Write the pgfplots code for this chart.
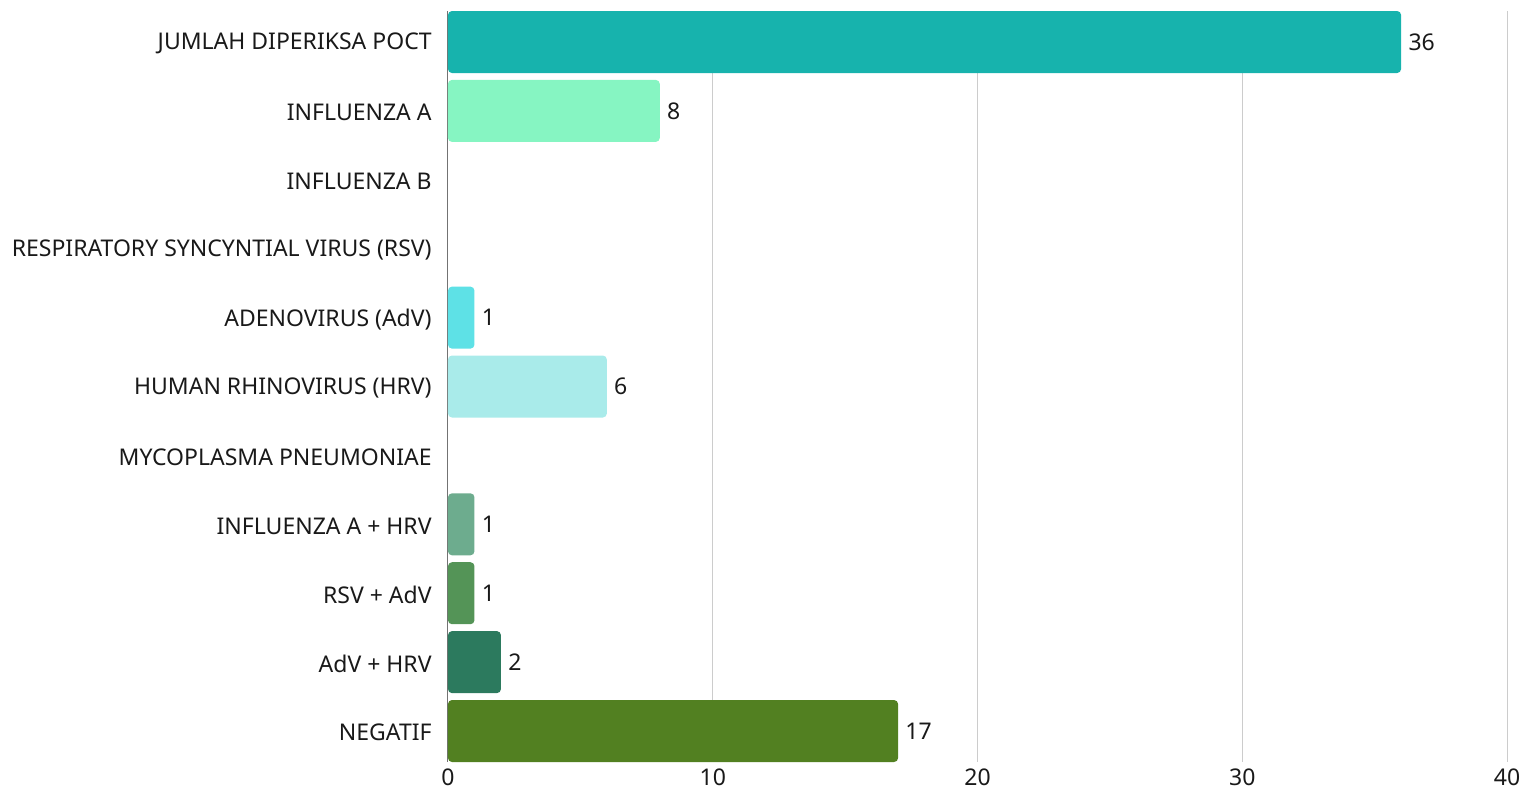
\documentclass[border=0pt]{standalone}
\usepackage{fontspec}
\setmainfont{Noto Sans}
\usepackage{pgfplots}
\pgfplotsset{compat=1.18}

\definecolor{cA}{HTML}{17B3AD}
\definecolor{cB}{HTML}{86F5C2}
\definecolor{cC}{HTML}{5EE1E6}
\definecolor{cD}{HTML}{A9EBEA}
\definecolor{cE}{HTML}{6DAC8E}
\definecolor{cF}{HTML}{549457}
\definecolor{cG}{HTML}{2C7A5E}
\definecolor{cH}{HTML}{528021}

\begin{document}
\begin{tikzpicture}
\begin{axis}[
    name=ax,
    xbar, bar width=31pt, bar shift=0pt,
    scale only axis, width=529.5pt, height=375.5pt,
    xmin=0, xmax=40, ymin=-0.45, ymax=10.45, y dir=reverse,
    ytick={0,...,10},
    yticklabels={JUMLAH DIPERIKSA POCT, INFLUENZA A, INFLUENZA B,
        RESPIRATORY SYNCYNTIAL VIRUS (RSV), ADENOVIRUS (AdV),
        HUMAN RHINOVIRUS (HRV), MYCOPLASMA PNEUMONIAE,
        INFLUENZA A + HRV, RSV + AdV, AdV + HRV, NEGATIF},
    xtick={0,10,20,30,40},
    xmajorgrids, grid style={black!20, line width=0.5pt},
    axis lines=left, axis line style={-},
    x axis line style={draw=none},
    y axis line style={black!55, line width=0.5pt},
    major tick length=0pt,
    tick label style={font=\fontsize{11.5}{13}\selectfont, text=black!90, inner sep=0pt},
    yticklabel style={anchor=east, xshift=-8pt, yshift=-0.8pt},
    xticklabel style={anchor=north, yshift=-3pt},
    /pgf/number format/assume math mode=true,
    point meta=x,
    nodes near coords,
    nodes near coords style={anchor=west, inner sep=0pt, xshift=3.5pt,
        font=\fontsize{11.5}{13}\selectfont, text=black!90},
    every axis plot/.append style={draw=none, rounded corners=2pt},
]
\addplot[fill=cA] coordinates {(36,0)};
\addplot[fill=cB] coordinates {(8,1)};
\addplot[fill=cC] coordinates {(1,4)};
\addplot[fill=cD] coordinates {(6,5)};
\addplot[fill=cE] coordinates {(1,7)};
\addplot[fill=cF] coordinates {(1,8)};
\addplot[fill=cG] coordinates {(2,9)};
\addplot[fill=cH] coordinates {(17,10)};
\end{axis}
\path[use as bounding box] ([xshift=-224pt,yshift=-14pt]ax.south west)
    rectangle ([xshift=8pt,yshift=5.5pt]ax.north east);
\end{tikzpicture}
\end{document}
